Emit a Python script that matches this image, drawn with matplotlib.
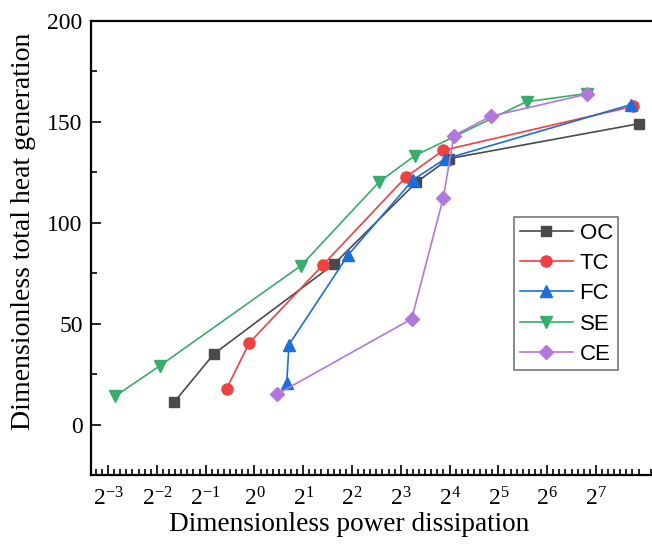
import numpy as np
import matplotlib
matplotlib.use("Agg")
import matplotlib.pyplot as plt
from matplotlib.ticker import FixedLocator, FuncFormatter, MultipleLocator

plt.rcParams['font.family'] = ['Liberation Serif', 'DejaVu Serif']
plt.rcParams['mathtext.fontset'] = 'custom'
plt.rcParams['mathtext.rm'] = 'Liberation Serif'
plt.rcParams['mathtext.it'] = 'Liberation Serif'
plt.rcParams['axes.unicode_minus'] = False

# data (x: power dissipation, y: total heat generation)
oc_x = [0.319, 0.563, 3.11, 10.0, 15.9, 236.7]
oc_y = [11.0, 35.0, 79.6, 120.0, 131.7, 149.0]
tc_x = [0.674, 0.930, 2.66, 8.62, 14.63, 217.5]
tc_y = [17.8, 40.4, 79.2, 122.6, 135.8, 157.6]
fc_x = [1.582, 1.635, 3.79, 9.55, 14.99, 209.6]
fc_y = [20.6, 39.6, 84.0, 121.3, 131.5, 158.4]
se_x = [0.138, 0.262, 1.94, 5.91, 9.79, 47.8, 112.7]
se_y = [14.0, 29.2, 78.7, 120.3, 133.2, 159.9, 163.9]
ce_x = [1.373, 9.34, 14.63, 17.03, 28.8, 112.7]
ce_y = [14.9, 52.3, 112.2, 143.1, 152.7, 163.6]

names = ['OC', 'TC', 'FC', 'SE', 'CE']
colors = ['#4a4a4a', '#f14040', '#1a6fdf', '#37ad6b', '#b177de']
markers = ['s', 'o', '^', 'v', 'D']
msizes = [7.5, 8, 8.5, 8.5, 7]
xs = [oc_x, tc_x, fc_x, se_x, ce_x]
ys = [oc_y, tc_y, fc_y, se_y, ce_y]

fig = plt.figure(figsize=(6.52, 5.5), dpi=100)
ax = fig.add_axes([91/652, 75/550, 1 - 91/652, (475 - 20.7)/550])

for n, c, m, s, x, y in zip(names, colors, markers, msizes, xs, ys):
    ax.plot(x, y, color=c, marker=m, markersize=s, linewidth=1.2, label=n)

ax.set_xscale('log', base=2)
ax.set_xlim(2**-3.35, 2**8.15)
ax.set_ylim(-25, 200)

exps = np.arange(-3, 8)
ax.xaxis.set_major_locator(FixedLocator(2.0**exps))
minor = [2.0**(e + k/8) for e in range(-4, 9) for k in range(1, 8)]
ax.xaxis.set_minor_locator(FixedLocator(minor))
ax.xaxis.set_major_formatter(FuncFormatter(lambda v, p: r'$2^{%d}$' % round(np.log2(v))))
ax.xaxis.set_minor_formatter(FuncFormatter(lambda v, p: ''))
ax.yaxis.set_major_locator(MultipleLocator(50))
ax.yaxis.set_minor_locator(MultipleLocator(25))

ax.tick_params(which='both', direction='in', width=1.2, labelsize=17)
ax.tick_params(which='major', length=7)
ax.tick_params(which='minor', length=4)
ax.tick_params(axis='x', pad=9)
ax.tick_params(axis='y', pad=6)
for sp in ['left', 'bottom', 'top']:
    ax.spines[sp].set_linewidth(1.6)
ax.spines['right'].set_visible(False)

ax.set_xlabel('Dimensionless power dissipation', fontsize=19.6)
ax.set_ylabel('Dimensionless total heat generation', fontsize=20)
ax.xaxis.set_label_coords((349 - 91)/561, -(512 - 475)/454.3)
ax.yaxis.set_label_coords((36 - 91)/561, (475 - 231)/454.3)

leg = ax.legend(loc='upper left', fancybox=False, edgecolor='#555555',
                prop={'family': 'Liberation Sans', 'size': 16}, handlelength=2.4,
                handletextpad=0.3, labelspacing=0.42, borderpad=0.25, borderaxespad=0,
                bbox_to_anchor=((514 - 91)/561, 1 - (217 - 20.7)/454.3),
                bbox_transform=ax.transAxes)
leg.get_frame().set_linewidth(1.2)

fig.savefig('out.png', dpi=100)
